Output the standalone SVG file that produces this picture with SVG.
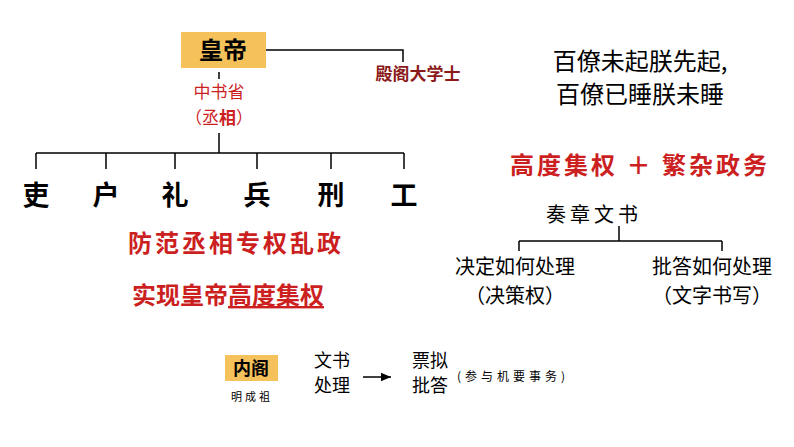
<svg xmlns="http://www.w3.org/2000/svg" width="794" height="447" viewBox="0 0 794 447">
<style>
.s{font-family:"Noto Sans CJK SC","Noto Sans CJK JP",sans-serif}
.b{font-weight:bold}
.l{stroke:#000;stroke-width:1.5;fill:none}
.r{fill:#cc1f1f}
</style>
<defs><marker id="a" markerWidth="8" markerHeight="8" refX="7" refY="4" orient="auto"><path d="M0,1 L7,4 L0,7 Z"/></marker></defs>
<rect width="794" height="447" fill="#fff"/>
<g id="connectors">
<path class="l" d="M266,50 H403 V62"/>
<path class="l" d="M219,72 V79" />
<path class="l" d="M219,133 V153 M36,153 H404 M36,153 V169 M106,153 V169 M175,153 V169 M257,153 V169 M331,153 V169 M404,153 V169"/>
<path class="l" d="M619,226 V241 M519,241 H722 M519,241 V251 M722,241 V251"/>
<path class="l" d="M363,377 H391" marker-end="url(#a)"/>
</g>
<g id="emperor"><rect x="181" y="32" width="85" height="36" fill="#f5c15b"/><text x="223" y="59" text-anchor="middle" class="s b" font-size="24">皇帝</text></g>
<g id="daxueshi"><text x="418" y="80" text-anchor="middle" class="s b" font-size="17" fill="#8b1a1a">殿阁大学士</text></g>
<g id="zhongshu"><text x="219" y="98" text-anchor="middle" class="s r" font-size="17">中书省</text><text x="219" y="124" text-anchor="middle" class="s r" font-size="17">（丞<tspan class="b">相</tspan>）</text></g>
<g id="six" class="s b" font-size="27" text-anchor="middle">
<text x="36" y="205">吏</text><text x="106" y="205">户</text><text x="175" y="205">礼</text><text x="257" y="205">兵</text><text x="331" y="205">刑</text><text x="404" y="205">工</text>
</g>
<g id="goal1"><text x="236" y="252" text-anchor="middle" class="s b r" font-size="24" letter-spacing="3">防范丞相专权乱政</text></g>
<g id="goal2"><text x="228" y="304" text-anchor="middle" class="s b r" font-size="24">实现皇帝<tspan text-decoration="underline">高度集权</tspan></text></g>
<g id="poem" class="s" font-size="24" text-anchor="middle"><text x="640" y="70">百僚未起朕先起,</text><text x="640" y="103">百僚已睡朕未睡</text></g>
<g id="reason"><text x="640" y="174" text-anchor="middle" class="s b r" font-size="24" letter-spacing="3">高度集权 ＋ 繁杂政务</text></g>
<g id="zouzhang"><text x="594" y="222" text-anchor="middle" class="s" font-size="20" letter-spacing="4">奏章文书</text></g>
<g id="decide" class="s" font-size="20" text-anchor="middle"><text x="515" y="274">决定如何处理</text><text x="515" y="303">（决策权）</text></g>
<g id="reply" class="s" font-size="20" text-anchor="middle"><text x="712" y="274">批答如何处理</text><text x="712" y="303">（文字书写）</text></g>
<g id="neige"><rect x="225" y="355" width="53" height="26" fill="#f5c15b"/><text x="251" y="375" text-anchor="middle" class="s b" font-size="18">内阁</text><text x="252" y="401" text-anchor="middle" class="s" font-size="11" letter-spacing="3">明成祖</text></g>
<g id="wenshu" class="s" font-size="18"><text x="314" y="367">文书</text><text x="314" y="392">处理</text></g>
<g id="piaoni" class="s" font-size="18"><text x="412" y="367">票拟</text><text x="412" y="392">批答</text><text x="457" y="381" font-size="12" letter-spacing="4">(参与机要事务)</text></g>
</svg>
